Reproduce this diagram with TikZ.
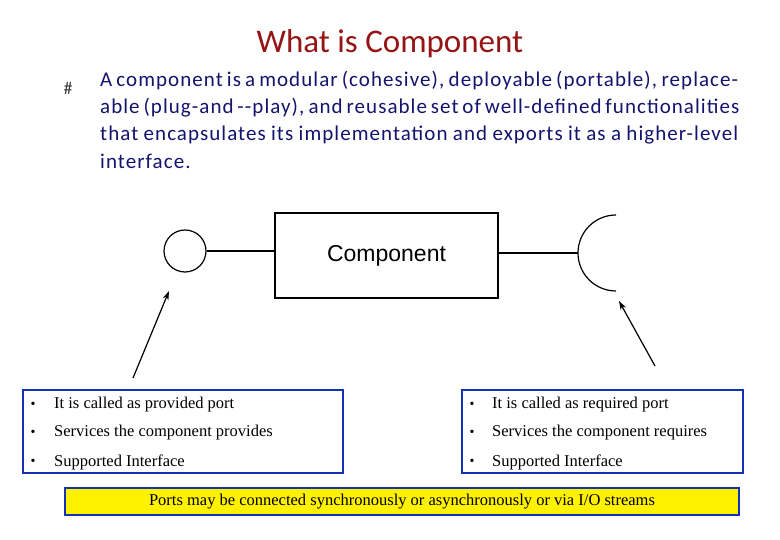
\documentclass[tikz,border=0pt]{standalone}
\usepackage{fontspec}
\usetikzlibrary{arrows.meta}
\setmainfont{Carlito}
\newfontfamily\paraf[LetterSpace=5]{Carlito}
\newfontfamily\serifb{Liberation Serif}
\newfontfamily\arl{Liberation Sans}
\begin{document}
\begin{tikzpicture}[x=1pt,y=-1pt,
  port/.style={draw=black,line width=1.2pt},
  infobox/.style={draw={rgb,255:red,20;green,50;blue,180},line width=2.2pt},
  itemtxt/.style={anchor=west,font=\serifb\fontsize{16.5}{18}\selectfont,inner sep=0pt},
  bul/.style={anchor=center,font=\serifb\fontsize{14}{16}\selectfont,inner sep=0pt}]
\useasboundingbox (0,0) rectangle (780,540);
\fill[white] (0,0) rectangle (780,540);
\definecolor{navy}{RGB}{20,20,110}
\definecolor{dred}{RGB}{150,20,20}
\node[font=\fontsize{33}{36}\selectfont,text=dred] (title) at (390,44) {What is Component};
\node[font=\fontsize{18}{18}\selectfont,text={rgb,255:red,60;green,60;blue,60}] (hb) at (68,88) {\#};
\node[anchor=north west,inner sep=0pt,text width=638pt,align=justify,text=navy,
  font=\paraf\fontsize{21}{27.2}\selectfont] (para) at (100,71)
  {\hyphenpenalty=10000 A component is a modular (cohesive), deployable (portable), replaceable (plug-and --play), and reusable set of well-defined functionalities that encapsulates its implementation and exports it as a higher-level interface.};
\node[port,minimum width=223pt,minimum height=85pt,inner sep=0pt,font=\arl\fontsize{23}{26}\selectfont] (comp) at (386.5,255.5) {Component};
\node[port,circle,minimum size=42pt,inner sep=0pt] (prov) at (185,251) {};
\draw[port] (prov.east) -- (prov.east -| comp.west);
\coordinate (req) at (578,253);
\draw[port] (comp.east |- req) -- (req);
\draw[port] (616,291) arc[start angle=90,end angle=270,radius=38];
\coordinate (a1s) at (133,378); \coordinate (a1e) at (169,291);
\coordinate (a2s) at (655,366); \coordinate (a2e) at (619,301);
\draw[line width=1.2pt,-{Stealth[length=9pt,width=6pt]}] (a1s) -- (a1e);
\draw[line width=1.2pt,-{Stealth[length=9pt,width=6pt]}] (a2s) -- (a2e);
\draw[infobox] (23,390) rectangle (343,473);
\draw[infobox] (462,390) rectangle (743,473);
\foreach \y/\t in {405/It is called as provided port,433/Services the component provides,462/Supported Interface}
  \node[itemtxt] at (54,\y) {\t};
\foreach \y/\t in {405/It is called as required port,433/Services the component requires,462/Supported Interface}
  \node[itemtxt] at (492,\y) {\t};
\foreach \y in {405,433,462} { \node[bul] at (33,\y) {•}; \node[bul] at (472,\y) {•}; }
\draw[infobox,fill=yellow] (65,488) rectangle (739,515);
\node[font=\serifb\fontsize{16.5}{18}\selectfont] (note) at (402,502) {Ports may be connected synchronously or asynchronously or via I/O streams};
\end{tikzpicture}
\end{document}
